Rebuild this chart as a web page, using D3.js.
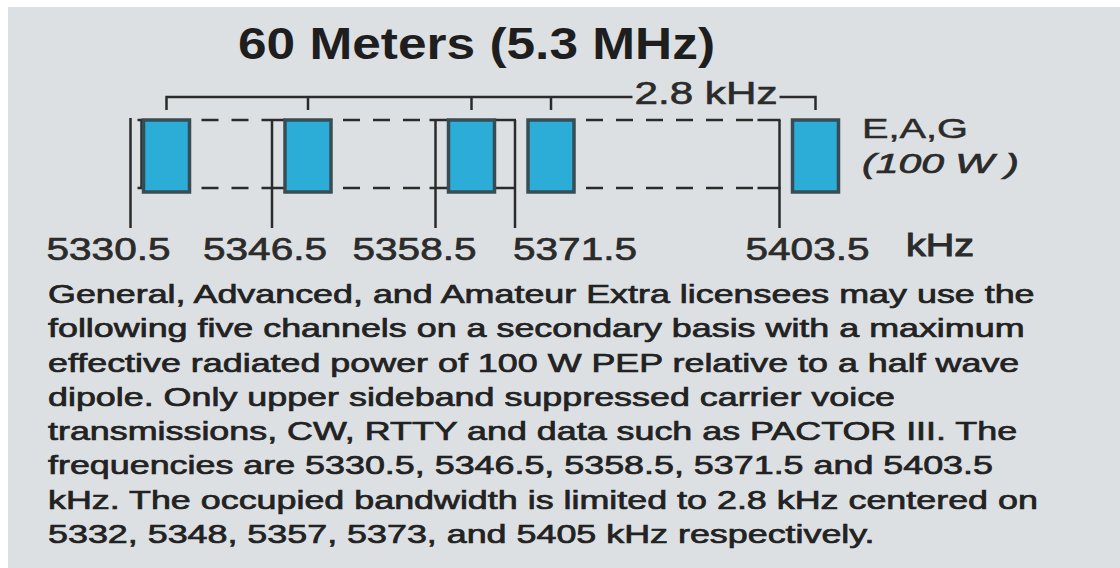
<!DOCTYPE html>
<html>
<head>
<meta charset="utf-8">
<script src="https://cdn.jsdelivr.net/npm/d3@7"></script>
<style>
  html, body { margin: 0; padding: 0; background: #fff; }
  svg { display: block; }
</style>
</head>
<body>
<svg id="chart" width="1120" height="568"></svg>
<script>
// ---- data ----
const title = '60 Meters (5.3 MHz)';
const channels = [5330.5, 5346.5, 5358.5, 5371.5, 5403.5];
const channelLabels = ['5330.5', '5346.5', '5358.5', '5371.5', '5403.5'];
const bandwidth = 2.8;
const bandwidthLabel = '2.8 kHz';
const unitLabel = 'kHz';
const licenseLabel = 'E,A,G';
const powerLabel = '(100 W )';
const linkDashed = [true, true, false, true];
const linkToBox = [true, true, false, false];
const notes = [
  'General, Advanced, and Amateur Extra licensees may use the',
  'following five channels on a secondary basis with a maximum',
  'effective radiated power of 100 W PEP relative to a half wave',
  'dipole. Only upper sideband suppressed carrier voice',
  'transmissions, CW, RTTY and data such as PACTOR III. The',
  'frequencies are 5330.5, 5346.5, 5358.5, 5371.5 and 5403.5',
  'kHz. The occupied bandwidth is limited to 2.8 kHz centered on',
  '5332, 5348, 5357, 5373, and 5405 kHz respectively.'
];

// ---- layout ----
const width = 1120, height = 568;
const channelX = [130.5, 272, 435.5, 515, 779.5];
const labelDx = [-22, -7, -21, 60, 28];
const yTop = 120, yLow = 188, yBoxLow = 192, yLineLow = 228;
const yBracket = 97, yTick = 110;
const ink = '#2b2b2b';
const font = '"Liberation Sans", Arial, Helvetica, sans-serif';

const svg = d3.select('#chart');

svg.append('rect')
  .attr('x', 8).attr('y', 7)
  .attr('width', width - 8).attr('height', height - 7)
  .attr('fill', '#dce0e2');

// frequency -> px (schematic, piecewise)
const x = d3.scaleLinear().domain(channels).range(channelX);
// kHz offset inside a channel -> px offset from the channel line
const kx = d3.scaleLinear().domain([0, bandwidth]).range([13, 59]);

const boxL = f => x(f) + kx(0);
const boxR = f => x(f) + kx(bandwidth);
const boxC = f => x(f) + kx(bandwidth / 2);

// title
svg.append('text')
  .attr('x', 238).attr('y', 59)
  .attr('font-family', font).attr('font-weight', 'bold')
  .attr('font-size', 44)
  .attr('textLength', 477).attr('lengthAdjust', 'spacingAndGlyphs')
  .attr('fill', '#1e1e1e')
  .text(title);

// bracket above the channels
const first = channels[0], last = channels[channels.length - 1];
const textRight = boxC(last) - 38;
svg.append('text')
  .attr('x', textRight).attr('y', 104)
  .attr('text-anchor', 'end')
  .attr('font-family', font).attr('font-size', 31)
  .attr('textLength', 143).attr('lengthAdjust', 'spacingAndGlyphs')
  .attr('fill', ink).attr('stroke', ink).attr('stroke-width', 0.6)
  .text(bandwidthLabel);

svg.append('path')
  .attr('d', d3.line()([[boxC(first), yTick], [boxC(first), yBracket], [textRight - 145, yBracket]]))
  .attr('fill', 'none').attr('stroke', ink).attr('stroke-width', 2.5);
svg.append('path')
  .attr('d', d3.line()([[textRight + 2, yBracket], [boxC(last), yBracket], [boxC(last), yTick]]))
  .attr('fill', 'none').attr('stroke', ink).attr('stroke-width', 2.5);

svg.selectAll('line.tick')
  .data(channels.slice(1, -1))
  .join('line')
  .attr('class', 'tick')
  .attr('x1', d => boxC(d)).attr('x2', d => boxC(d))
  .attr('y1', yBracket).attr('y2', yTick)
  .attr('stroke', ink).attr('stroke-width', 2.5);

// links between neighbouring channels
const links = d3.pairs(channels).map(([a, b], i) => ({
  a, b, dashed: linkDashed[i], toBox: linkToBox[i], last: i === channels.length - 2
}));

const linkG = svg.append('g');
links.forEach(l => {
  const start = boxR(l.a);
  const end = l.toBox ? boxL(l.b) : x(l.b) + 1;
  const solidFrom = l.dashed ? (l.last ? x(l.b) - 22 : x(l.b) - 6) : start;
  [yTop, yLow].forEach(yy => {
    if (l.dashed) {
      linkG.append('line')
        .attr('x1', start + 12).attr('x2', solidFrom)
        .attr('y1', yy).attr('y2', yy)
        .attr('stroke', ink).attr('stroke-width', 2.5)
        .attr('stroke-dasharray', '17,13');
    }
    linkG.append('line')
      .attr('x1', solidFrom).attr('x2', end)
      .attr('y1', yy).attr('y2', yy)
      .attr('stroke', ink).attr('stroke-width', 2.5);
  });
});

// left bracket of the first channel
svg.append('path')
  .attr('d', d3.line()([[boxL(first) - 6, yTop], [boxL(first) - 2, yTop], [boxL(first) - 2, yLow], [boxL(first) - 6, yLow]]))
  .attr('fill', 'none').attr('stroke', ink).attr('stroke-width', 2.5);

// channel lines
svg.selectAll('line.chan')
  .data(channels)
  .join('line')
  .attr('class', 'chan')
  .attr('x1', d => x(d)).attr('x2', d => x(d))
  .attr('y1', (d, i) => i === 0 ? yTop - 2 : yTop)
  .attr('y2', yLineLow)
  .attr('stroke', ink).attr('stroke-width', 2.5);

// channel boxes (2.8 kHz each)
svg.selectAll('rect.chbox')
  .data(channels)
  .join('rect')
  .attr('class', 'chbox')
  .attr('x', d => boxL(d))
  .attr('y', yTop)
  .attr('width', d => boxR(d) - boxL(d))
  .attr('height', yBoxLow - yTop)
  .attr('fill', '#2badd7')
  .attr('stroke', '#384c56')
  .attr('stroke-width', 3.5);

// frequency labels
svg.selectAll('text.freq')
  .data(channels)
  .join('text')
  .attr('class', 'freq')
  .attr('x', (d, i) => x(d) + labelDx[i])
  .attr('y', 260)
  .attr('text-anchor', 'middle')
  .attr('font-family', font).attr('font-size', 32)
  .attr('textLength', 124).attr('lengthAdjust', 'spacingAndGlyphs')
  .attr('fill', ink).attr('stroke', ink).attr('stroke-width', 0.7)
  .text((d, i) => channelLabels[i]);

svg.append('text')
  .attr('x', 906).attr('y', 256)
  .attr('font-family', font).attr('font-size', 32)
  .attr('textLength', 68).attr('lengthAdjust', 'spacingAndGlyphs')
  .attr('fill', ink).attr('stroke', ink).attr('stroke-width', 1)
  .text(unitLabel);

// license / power note
svg.append('text')
  .attr('x', 862).attr('y', 138)
  .attr('font-family', font).attr('font-size', 28)
  .attr('textLength', 106).attr('lengthAdjust', 'spacingAndGlyphs')
  .attr('fill', ink).attr('stroke', ink).attr('stroke-width', 0.5)
  .text(licenseLabel);
svg.append('text')
  .attr('x', 862).attr('y', 173)
  .attr('font-family', font).attr('font-size', 28).attr('font-style', 'italic')
  .attr('textLength', 157).attr('lengthAdjust', 'spacingAndGlyphs')
  .attr('fill', ink).attr('stroke', ink).attr('stroke-width', 0.7)
  .text(powerLabel);

// description
const noteG = svg.append('g');
const noteText = noteG.selectAll('text')
  .data(notes)
  .join('text')
  .attr('x', 0)
  .attr('y', (d, i) => 303 + i * 34.3)
  .attr('font-family', font).attr('font-size', 26)
  .attr('fill', '#222').attr('stroke', '#222').attr('stroke-width', 0.7)
  .text(d => d);
const natural = noteText.node().getComputedTextLength();
noteG.attr('transform', `translate(48,0) scale(${987 / natural},1)`);
</script>
</body>
</html>
